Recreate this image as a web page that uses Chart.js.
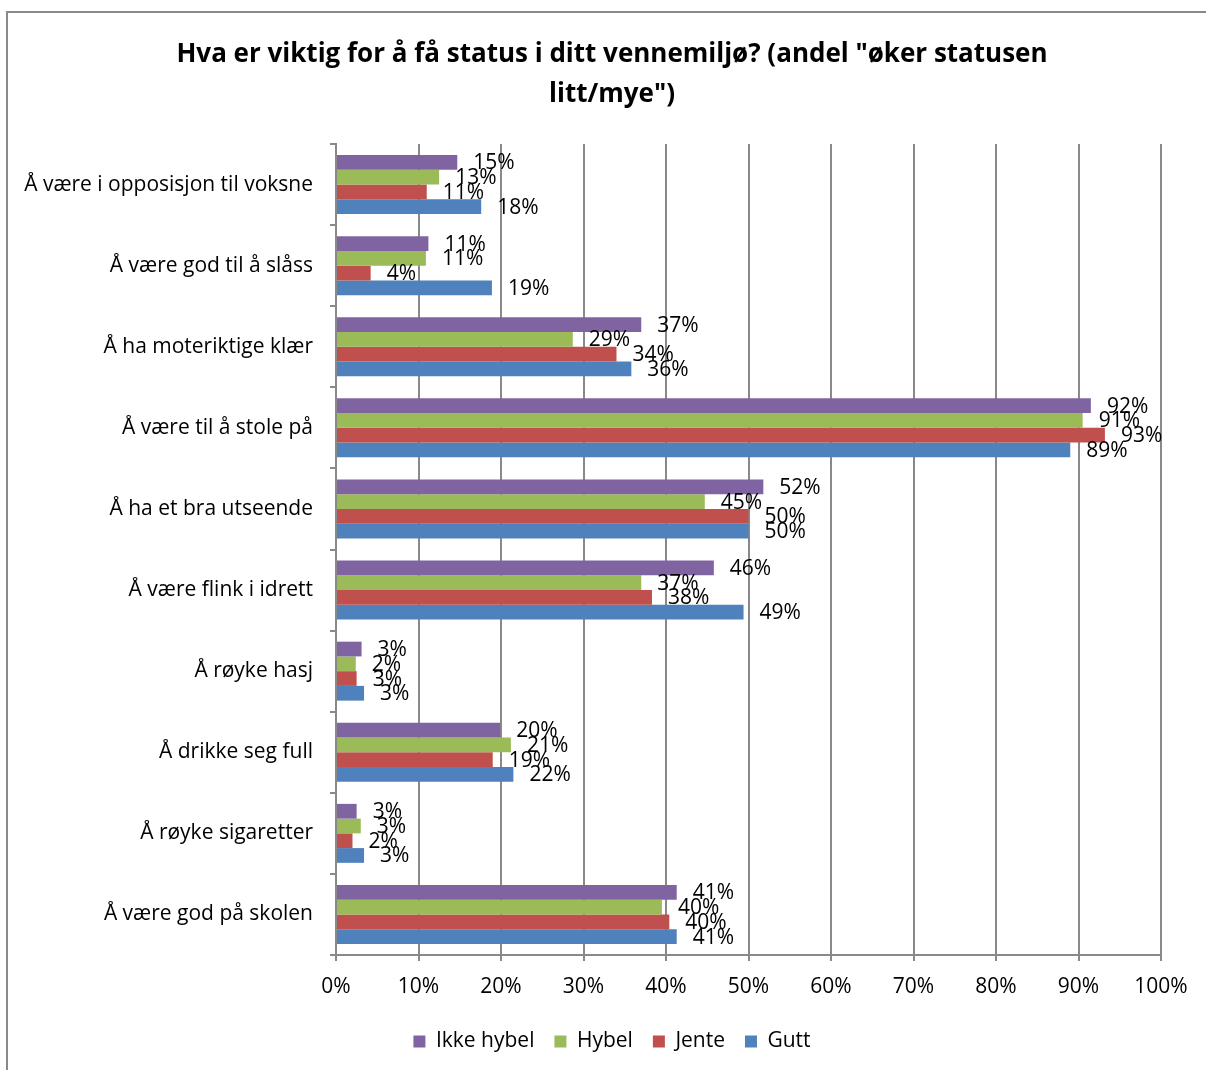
<!DOCTYPE html>
<html>
<head>
<meta charset="utf-8">
<script src="https://cdn.jsdelivr.net/npm/chart.js@4.4.1/dist/chart.umd.min.js"></script>
<style>
    html, body { margin: 0; padding: 0; background: #fff; overflow: hidden; }
    #frame {
        position: absolute; left: 6px; top: 11px; width: 1300px; height: 1200px;
        border-left: 2px solid #898989; border-top: 2px solid #898989;
    }
    #wrap { position: absolute; left: 0; top: 0; width: 1206px; height: 1070px; }
</style>
</head>
<body>
<div id="frame"></div>
<div id="wrap"><canvas id="statusChart"></canvas></div>
<script>
// === DATA ===
const categories = [
    'Å være i opposisjon til voksne',
    'Å være god til å slåss',
    'Å ha moteriktige klær',
    'Å være til å stole på',
    'Å ha et bra utseende',
    'Å være flink i idrett',
    'Å røyke hasj',
    'Å drikke seg full',
    'Å røyke sigaretter',
    'Å være god på skolen'
];
const seriesNames = ['Ikke hybel', 'Hybel', 'Jente', 'Gutt'];
const ikkeHybel = [14.7, 11.2, 37.0, 91.5, 51.8, 45.8, 3.1, 19.9, 2.5, 41.3];
const hybel     = [12.5, 10.9, 28.7, 90.5, 44.7, 37.0, 2.4, 21.2, 3.0, 39.5];
const jente     = [11.0,  4.2, 34.0, 93.2, 50.0, 38.3, 2.5, 19.0, 2.0, 40.4];
const gutt      = [17.6, 18.9, 35.8, 89.0, 50.0, 49.4, 3.4, 21.5, 3.4, 41.3];
const xTicks = [0, 10, 20, 30, 40, 50, 60, 70, 80, 90, 100];

const colors = ['#8064A2', '#9BBB59', '#C0504D', '#4F81BD'];
const gridColor = '#898989';

Chart.defaults.font.family = "'Open Sans', sans-serif";
Chart.defaults.color = '#000';

// value labels to the right of each bar
const valueLabels = {
    id: 'valueLabels',
    afterDatasetsDraw(chart) {
        const ctx = chart.ctx;
        ctx.save();
        ctx.font = "21px 'Open Sans'";
        ctx.fillStyle = '#000';
        ctx.textAlign = 'left';
        ctx.textBaseline = 'middle';
        chart.data.datasets.forEach((ds, i) => {
            const meta = chart.getDatasetMeta(i);
            meta.data.forEach((bar, j) => {
                ctx.fillText(Math.round(ds.data[j]) + '%', bar.x + 16, bar.y + 1);
            });
        });
        ctx.restore();
    }
};

const values = [ikkeHybel, hybel, jente, gutt];

new Chart(document.getElementById('statusChart').getContext('2d'), {
    type: 'bar',
    data: {
        labels: categories,
        datasets: seriesNames.map((name, i) => ({
            label: name,
            data: values[i],
            backgroundColor: colors[i],
            borderWidth: 0,
            barPercentage: 1.0,
            categoryPercentage: 0.727
        }))
    },
    options: {
        indexAxis: 'y',
        responsive: true,
        maintainAspectRatio: false,
        animation: false,
        layout: {
            // title and legend are centred a bit right of the canvas centre
            padding: { left: 10, right: -8, top: 0, bottom: 8 }
        },
        plugins: {
            title: {
                display: true,
                text: ['Hva er viktig for å få status i ditt vennemiljø? (andel "øker statusen', 'litt/mye")'],
                font: { size: 26, weight: 'bold', lineHeight: 40 / 26 },
                padding: { top: 35, bottom: 29 },
                color: '#000'
            },
            legend: {
                position: 'bottom',
                labels: {
                    boxWidth: 12,
                    boxHeight: 12,
                    padding: 20,
                    font: { size: 21 },
                    color: '#000'
                }
            },
            tooltip: { enabled: false }
        },
        scales: {
            x: {
                min: 0,
                max: 100,
                afterBuildTicks: function(scale) {
                    scale.ticks = xTicks.map(v => ({ value: v }));
                },
                afterFit: function(scale) { scale.height = 56; },
                ticks: {
                    callback: function(v) { return v + '%'; },
                    font: { size: 21 },
                    padding: 13,
                    color: '#000'
                },
                grid: {
                    color: gridColor,
                    lineWidth: 2,
                    tickLength: 6
                },
                border: { color: gridColor, width: 2 }
            },
            y: {
                afterFit: function(scale) { scale.width = 326; },
                ticks: {
                    font: { size: 21 },
                    padding: 17,
                    color: '#000'
                },
                grid: {
                    drawOnChartArea: false,
                    offset: true,
                    tickLength: 6,
                    color: gridColor,
                    lineWidth: 2
                },
                border: { color: gridColor, width: 2 }
            },
            // empty spacer on the right so the plot ends at 100%
            spacer: {
                type: 'linear',
                position: 'right',
                afterFit: function(scale) { scale.width = 53; },
                ticks: { display: false },
                grid: { display: false },
                border: { display: false }
            }
        }
    },
    plugins: [valueLabels]
});
</script>
</body>
</html>
